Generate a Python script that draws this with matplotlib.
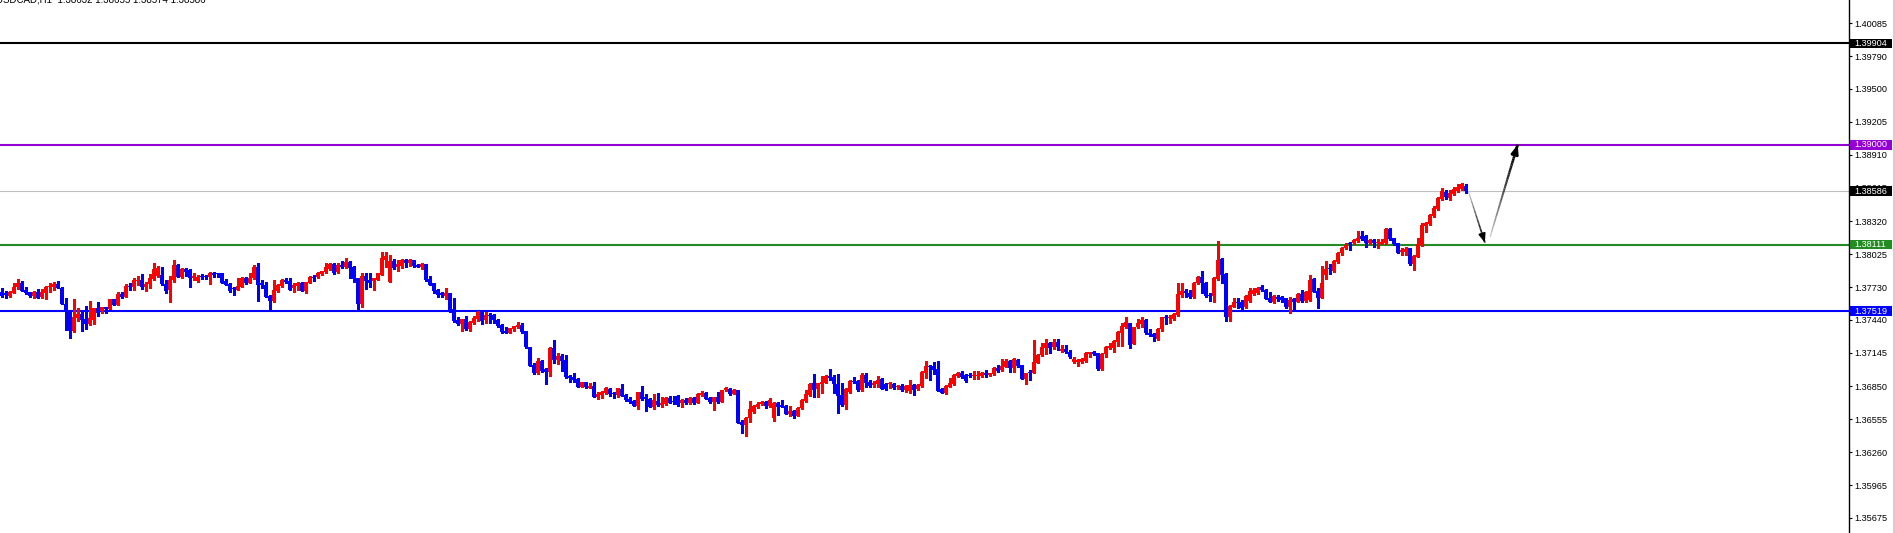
import numpy as np
import matplotlib
matplotlib.use("Agg")
import matplotlib.pyplot as plt
from matplotlib.collections import LineCollection
from matplotlib.patches import Rectangle
from matplotlib.lines import Line2D

# USDCAD H1 candles, prices in points (1 point = 0.00001)
OPEN_PTS = [
    137692, 137677, 137656, 137683, 137730, 137772, 137706, 137689, 137656, 137692,
    137641, 137683, 137730, 137736, 137760, 137727, 137582, 137522, 137341, 137454,
    137493, 137448, 137400, 137439, 137543, 137522, 137552, 137537, 137626, 137573,
    137671, 137647, 137742, 137736, 137790, 137796, 137736, 137760, 137804, 137831,
    137840, 137757, 137706, 137796, 137929, 137819, 137894, 137885, 137810, 137787,
    137825, 137831, 137819, 137855, 137855, 137855, 137790, 137760, 137718, 137706,
    137736, 137810, 137772, 137810, 137908, 137772, 137751, 137653, 137608, 137700,
    137742, 137796, 137787, 137721, 137742, 137772, 137700, 137772, 137825, 137819,
    137849, 137864, 137891, 137938, 137864, 137929, 137908, 137953, 137908, 137810,
    137582, 137831, 137796, 137790, 137796, 137840, 137974, 137781, 137968, 137908,
    137920, 137974, 137950, 137974, 137929, 137909, 137938, 137805, 137772, 137707,
    137677, 137656, 137677, 137534, 137439, 137404, 137448, 137359, 137416, 137445,
    137514, 137439, 137484, 137484, 137439, 137395, 137341, 137320, 137356, 137374,
    137395, 137344, 137196, 137038, 136970, 137074, 137000, 136973, 137187, 137083,
    137119, 137083, 136940, 136934, 136911, 136845, 136884, 136836, 136851, 136756,
    136771, 136792, 136822, 136792, 136771, 136822, 136771, 136735, 136721, 136676,
    136795, 136750, 136735, 136667, 136721, 136682, 136691, 136747, 136718, 136765,
    136697, 136726, 136703, 136747, 136703, 136771, 136792, 136747, 136712, 136756,
    136712, 136816, 136825, 136780, 136816, 136533, 136504, 136563, 136623, 136667,
    136691, 136706, 136676, 136569, 136697, 136682, 136676, 136602, 136628, 136587,
    136658, 136720, 136771, 136875, 136821, 136869, 136880, 136940, 136928, 136869,
    136771, 136681, 136800, 136898, 136895, 136815, 136949, 136889, 136860, 136866,
    136910, 136869, 136866, 136869, 136839, 136851, 136815, 136809, 136860, 136821,
    136851, 136964, 137029, 137029, 136999, 136821, 136785, 136845, 136869, 136940,
    136970, 136949, 136949, 136940, 136943, 136940, 136970, 136949, 136958, 137008,
    136993, 137023, 137073, 137014, 137082, 137038, 136913, 136970, 136964, 137059,
    137127, 137192, 137231, 137201, 137246, 137166, 137177, 137157, 137067, 137062,
    137062, 137076, 137133, 137151, 137142, 137002, 137136, 137192, 137192, 137246,
    137326, 137379, 137409, 137225, 137373, 137403, 137439, 137320, 137314, 137267,
    137356, 137463, 137454, 137448, 137483, 137662, 137700, 137676, 137641, 137765,
    137825, 137771, 137662, 137656, 137804, 137979, 137849, 137469, 137558, 137596,
    137602, 137552, 137611, 137670, 137676, 137730, 137706, 137632, 137602, 137647,
    137647, 137632, 137552, 137626, 137602, 137670, 137611, 137617, 137804, 137700,
    137638, 137840, 137899, 137875, 137959, 138033, 138083, 138122, 138122, 138146,
    138190, 138190, 138122, 138152, 138122, 138116, 138122, 138247, 138166, 138122,
    138042, 138048, 138077, 137938, 138003, 138107, 138276, 138294, 138365, 138428,
    138517, 138583, 138523, 138562, 138592, 138604, 138632,
]
HIGH_PTS = [
    137721, 137697, 137697, 137766, 137804, 137787, 137730, 137692, 137700, 137712,
    137718, 137742, 137766, 137778, 137787, 137730, 137632, 137522, 137626, 137543,
    137528, 137564, 137608, 137543, 137596, 137558, 137552, 137626, 137626, 137686,
    137692, 137760, 137766, 137816, 137831, 137849, 137781, 137846, 137950, 137920,
    137914, 137796, 137834, 137974, 137938, 137905, 137905, 137891, 137861, 137843,
    137849, 137840, 137870, 137870, 137861, 137861, 137804, 137766, 137736, 137810,
    137825, 137825, 137861, 137929, 137950, 137796, 137781, 137662, 137796, 137760,
    137804, 137816, 137816, 137766, 137781, 137775, 137781, 137834, 137840, 137870,
    137879, 137944, 137944, 137944, 137944, 137968, 137994, 137968, 137920, 137810,
    137861, 137861, 137855, 137810, 137861, 138042, 138042, 138018, 137980, 137974,
    137980, 137980, 137980, 137974, 137938, 137944, 137938, 137831, 137772, 137713,
    137692, 137727, 137683, 137638, 137469, 137448, 137475, 137430, 137475, 137522,
    137522, 137508, 137499, 137490, 137448, 137401, 137380, 137371, 137386, 137424,
    137416, 137344, 137196, 137059, 137098, 137083, 137009, 137196, 137261, 137142,
    137133, 137127, 136949, 136964, 136920, 136890, 136890, 136875, 136884, 136795,
    136807, 136839, 136830, 136801, 136836, 136869, 136780, 136756, 136726, 136801,
    136851, 136780, 136741, 136780, 136792, 136756, 136750, 136765, 136765, 136771,
    136735, 136741, 136756, 136756, 136786, 136807, 136801, 136756, 136756, 136801,
    136816, 136845, 136830, 136825, 136816, 136548, 136578, 136718, 136682, 136712,
    136721, 136721, 136741, 136706, 136706, 136726, 136682, 136676, 136637, 136667,
    136735, 136815, 136875, 136958, 136880, 136940, 136949, 136999, 136949, 136958,
    136880, 136830, 136904, 136934, 136904, 136970, 136970, 136904, 136895, 136940,
    136919, 136880, 136889, 136880, 136860, 136869, 136860, 136904, 136869, 136866,
    136984, 137073, 137038, 137067, 137073, 136830, 136860, 136919, 136958, 136978,
    136984, 136958, 136964, 136984, 136984, 136978, 136993, 136970, 137023, 137038,
    137088, 137088, 137082, 137097, 137088, 137038, 136970, 136993, 137261, 137136,
    137237, 137267, 137246, 137267, 137267, 137216, 137216, 137172, 137106, 137088,
    137097, 137157, 137157, 137166, 137148, 137142, 137210, 137231, 137261, 137341,
    137415, 137469, 137415, 137379, 137445, 137469, 137445, 137359, 137326, 137365,
    137469, 137483, 137483, 137498, 137765, 137765, 137712, 137706, 137780, 137831,
    137878, 137780, 137676, 137819, 138143, 137988, 137855, 137572, 137632, 137632,
    137617, 137662, 137721, 137721, 137730, 137751, 137712, 137685, 137662, 137662,
    137656, 137638, 137647, 137638, 137676, 137706, 137700, 137840, 137810, 137721,
    137923, 137965, 137935, 137973, 138048, 138092, 138128, 138131, 138161, 138232,
    138232, 138196, 138161, 138161, 138158, 138161, 138256, 138262, 138172, 138128,
    138077, 138092, 138083, 138018, 138166, 138300, 138315, 138380, 138455, 138538,
    138612, 138598, 138598, 138621, 138651, 138657, 138655,
]
LOW_PTS = [
    137647, 137632, 137647, 137677, 137712, 137697, 137671, 137647, 137632, 137632,
    137632, 137623, 137692, 137706, 137727, 137582, 137350, 137282, 137335, 137433,
    137344, 137362, 137395, 137403, 137475, 137504, 137504, 137537, 137573, 137573,
    137632, 137647, 137706, 137706, 137751, 137712, 137697, 137721, 137796, 137825,
    137751, 137677, 137602, 137775, 137819, 137810, 137831, 137736, 137796, 137781,
    137801, 137804, 137760, 137825, 137819, 137772, 137751, 137692, 137662, 137706,
    137736, 137760, 137766, 137804, 137608, 137721, 137641, 137537, 137602, 137692,
    137736, 137766, 137706, 137692, 137706, 137700, 137683, 137766, 137790, 137810,
    137840, 137855, 137885, 137849, 137855, 137899, 137899, 137810, 137781, 137522,
    137552, 137715, 137730, 137706, 137796, 137840, 137914, 137781, 137891, 137879,
    137900, 137914, 137920, 137909, 137909, 137894, 137790, 137751, 137683, 137647,
    137647, 137626, 137514, 137419, 137395, 137341, 137350, 137341, 137404, 137433,
    137404, 137416, 137410, 137410, 137380, 137326, 137326, 137320, 137344, 137365,
    137326, 137193, 137029, 136958, 136958, 136979, 136866, 136940, 137059, 137044,
    136988, 136925, 136890, 136884, 136839, 136839, 136836, 136830, 136756, 136732,
    136747, 136780, 136765, 136747, 136750, 136765, 136718, 136697, 136673, 136646,
    136726, 136631, 136661, 136646, 136676, 136661, 136682, 136697, 136691, 136676,
    136667, 136691, 136691, 136691, 136697, 136765, 136732, 136703, 136637, 136703,
    136706, 136807, 136771, 136777, 136519, 136435, 136409, 136533, 136608, 136652,
    136682, 136658, 136667, 136542, 136593, 136661, 136599, 136587, 136563, 136587,
    136643, 136711, 136765, 136750, 136750, 136785, 136875, 136904, 136791, 136613,
    136673, 136643, 136791, 136875, 136809, 136809, 136839, 136845, 136839, 136845,
    136821, 136815, 136830, 136821, 136821, 136809, 136800, 136791, 136771, 136815,
    136845, 136919, 136904, 136958, 136809, 136785, 136776, 136839, 136860, 136928,
    136919, 136889, 136928, 136913, 136913, 136934, 136928, 136940, 136949, 136978,
    136987, 137023, 136978, 136978, 137023, 136913, 136866, 136904, 136964, 137053,
    137121, 137136, 137142, 137180, 137172, 137157, 137142, 137097, 137053, 137032,
    137053, 137067, 137112, 137127, 136993, 136993, 137112, 137180, 137157, 137207,
    137210, 137365, 137192, 137225, 137365, 137373, 137311, 137296, 137255, 137261,
    137344, 137403, 137415, 137439, 137474, 137647, 137647, 137638, 137632, 137760,
    137682, 137647, 137611, 137602, 137795, 137765, 137433, 137433, 137552, 137543,
    137534, 137543, 137602, 137662, 137670, 137700, 137623, 137596, 137593, 137611,
    137602, 137543, 137498, 137528, 137596, 137602, 137602, 137611, 137685, 137549,
    137638, 137804, 137849, 137869, 137950, 138018, 138068, 138063, 138113, 138137,
    138152, 138086, 138116, 138092, 138083, 138116, 138116, 138152, 138107, 138033,
    138018, 138018, 137929, 137884, 137997, 138098, 138226, 138285, 138359, 138419,
    138508, 138514, 138508, 138553, 138583, 138598, 138574,
]
CLOSE_PTS = [
    137656, 137662, 137689, 137730, 137766, 137700, 137683, 137656, 137689, 137638,
    137689, 137736, 137742, 137760, 137727, 137582, 137522, 137344, 137466, 137493,
    137439, 137403, 137454, 137543, 137504, 137552, 137534, 137626, 137573, 137671,
    137647, 137742, 137730, 137796, 137796, 137736, 137760, 137810, 137891, 137899,
    137757, 137697, 137796, 137929, 137825, 137891, 137870, 137810, 137831, 137819,
    137822, 137819, 137861, 137843, 137846, 137772, 137751, 137700, 137712, 137742,
    137813, 137766, 137810, 137914, 137751, 137751, 137647, 137611, 137706, 137751,
    137796, 137781, 137706, 137751, 137766, 137700, 137778, 137819, 137810, 137855,
    137873, 137908, 137938, 137855, 137929, 137914, 137953, 137899, 137801, 137582,
    137831, 137790, 137772, 137810, 137861, 137989, 138012, 137968, 137899, 137935,
    137974, 137950, 137974, 137920, 137909, 137938, 137796, 137751, 137701, 137662,
    137659, 137677, 137522, 137430, 137404, 137448, 137359, 137424, 137460, 137514,
    137433, 137484, 137478, 137439, 137386, 137335, 137326, 137365, 137386, 137395,
    137335, 137196, 137032, 136970, 137074, 136988, 136973, 137193, 137083, 137119,
    137074, 136928, 136925, 136905, 136845, 136884, 136839, 136854, 136756, 136777,
    136801, 136830, 136780, 136777, 136830, 136765, 136726, 136706, 136676, 136795,
    136735, 136735, 136667, 136726, 136682, 136703, 136741, 136703, 136712, 136682,
    136726, 136703, 136747, 136697, 136780, 136792, 136735, 136712, 136756, 136706,
    136816, 136830, 136780, 136816, 136525, 136504, 136569, 136643, 136676, 136691,
    136706, 136673, 136726, 136697, 136667, 136667, 136602, 136628, 136587, 136658,
    136726, 136779, 136869, 136815, 136875, 136889, 136940, 136919, 136866, 136765,
    136681, 136821, 136895, 136889, 136815, 136949, 136880, 136851, 136875, 136904,
    136824, 136821, 136875, 136830, 136851, 136815, 136851, 136860, 136815, 136860,
    136978, 137029, 137023, 136993, 136809, 136785, 136851, 136880, 136949, 136970,
    136928, 136895, 136940, 136949, 136949, 136970, 136949, 136964, 137008, 136984,
    137029, 137073, 137014, 137091, 137032, 136913, 136964, 136964, 137067, 137127,
    137201, 137237, 137186, 137246, 137201, 137180, 137157, 137106, 137088, 137082,
    137088, 137148, 137151, 137133, 136999, 137136, 137201, 137210, 137252, 137329,
    137388, 137418, 137216, 137379, 137409, 137439, 137320, 137305, 137290, 137356,
    137463, 137454, 137463, 137489, 137670, 137700, 137676, 137647, 137771, 137819,
    137765, 137653, 137653, 137816, 137973, 137840, 137469, 137564, 137596, 137587,
    137543, 137656, 137700, 137706, 137721, 137706, 137626, 137602, 137653, 137626,
    137617, 137552, 137617, 137602, 137668, 137611, 137691, 137795, 137691, 137638,
    137765, 137893, 137890, 137965, 138039, 138083, 138107, 138116, 138152, 138172,
    138161, 138122, 138152, 138122, 138137, 138137, 138247, 138158, 138116, 138039,
    138063, 138068, 137938, 138009, 138113, 138285, 138300, 138374, 138440, 138529,
    138589, 138538, 138568, 138604, 138627, 138651, 138586,
]

TITLE = "USDCAD,H1  1.38632 1.38655 1.38574 1.38586"
Y_TICKS = [1.40085, 1.39790, 1.39500, 1.39205, 1.38910, 1.38615, 1.38320, 1.38025,
           1.37730, 1.37440, 1.37145, 1.36850, 1.36555, 1.36260, 1.35965, 1.35675]
LEVELS = [1.39904, 1.39000, 1.38111, 1.37519]
LEVEL_COLORS = ["#000000", "#9400d3", "#228b22", "#0000ff"]
BID = 1.38586

# hand-drawn forecast: drop to support, then up to target (bar index, price)
PATH_DOWN = [(366.7, 1.38582), (370.8, 1.38129)]
PATH_UP = [(372.1, 1.38179), (379.0, 1.39000)]

plt.rcParams["font.family"] = ["Liberation Sans", "DejaVu Sans"]

o = np.array(OPEN_PTS) / 1e5
h = np.array(HIGH_PTS) / 1e5
l = np.array(LOW_PTS) / 1e5
c = np.array(CLOSE_PTS) / 1e5
x = np.arange(len(o))

W, H = 1895, 533
fig = plt.figure(figsize=(W / 100, H / 100), dpi=100)
ax = fig.add_axes([0, 0, 1848.5 / W, 1])
ax.set_xlim(-0.4, 461.7)
ax.set_ylim(1.35541, 1.40290)

cols = np.where(c > o, "#ff0000", np.where(c < o, "#0000ff", "#000000"))
body_lo = np.minimum(o, c)
body_h = np.maximum(np.abs(c - o), 0.00009)
ax.vlines(x, l, h, colors=cols, linewidth=0.8, antialiased=False, zorder=3)
ax.bar(x, body_h, bottom=body_lo, width=0.72, color=cols, linewidth=0,
       antialiased=False, zorder=3)

# levels
ax.axhline(BID, color="#c0c0c0", lw=0.8, zorder=1)
for lev, col in zip(LEVELS, LEVEL_COLORS):
    ax.axhline(lev, color=col, lw=1.5, zorder=2)


def gradient_line(p0, p1, w0, w1):
    n = 40
    t = np.linspace(0, 1, n + 1)
    xs = p0[0] + (p1[0] - p0[0]) * t
    ys = p0[1] + (p1[1] - p0[1]) * t
    segs = [[(xs[i], ys[i]), (xs[i + 1], ys[i + 1])] for i in range(n)]
    g = np.linspace(0.85, 0.0, n) ** 1.5
    colors = [(v, v, v) for v in g]
    widths = np.linspace(w0, w1, n)
    ax.add_collection(LineCollection(segs, colors=colors, linewidths=widths, zorder=4))
    ax.annotate("", xy=p1, xytext=(p0[0] + (p1[0] - p0[0]) * 0.9, p0[1] + (p1[1] - p0[1]) * 0.9),
                arrowprops=dict(arrowstyle="-|>,head_length=0.5,head_width=0.2",
                                color="black", lw=w1, shrinkA=0, shrinkB=0), zorder=4)


gradient_line(PATH_DOWN[0], PATH_DOWN[1], 0.8, 1.3)
gradient_line(PATH_UP[0], PATH_UP[1], 0.9, 2.0)

# right price scale
ax.yaxis.tick_right()
ax.set_yticks(Y_TICKS)
ax.set_yticklabels([f"{t:.5f}" for t in Y_TICKS])
ax.tick_params(axis="y", direction="out", length=2.2, width=0.8, pad=2,
               labelsize=6.6, colors="black")
ax.set_xticks([])
for s in ["top", "left", "bottom"]:
    ax.spines[s].set_visible(False)
ax.spines["right"].set_linewidth(1.0)

box_w = 42 / 1848.5
box_h = 9.5 * (1.40290 - 1.35541) / H
tr = ax.get_yaxis_transform()
for lev, col in list(zip(LEVELS, LEVEL_COLORS)) + [(BID, "#000000")]:
    ax.add_patch(Rectangle((1.0 + 1.5 / 1848.5, lev - box_h / 2), box_w, box_h,
                           transform=tr, fc=col, ec="none", clip_on=False, zorder=6))
    ax.text(1.0 + 6 / 1848.5, lev, f"{lev:.5f}", transform=tr, color="white",
            fontsize=6.6, va="center", ha="left", clip_on=False, zorder=7)

fig.text(-4 / W, 1 - 3 / H, TITLE, fontsize=7, va="baseline", ha="left")
fig.add_artist(Line2D([1893.5 / W] * 2, [0, 1], transform=fig.transFigure,
                      color="#d0d0d0", lw=1.5))

fig.savefig("out.png", dpi=100)
